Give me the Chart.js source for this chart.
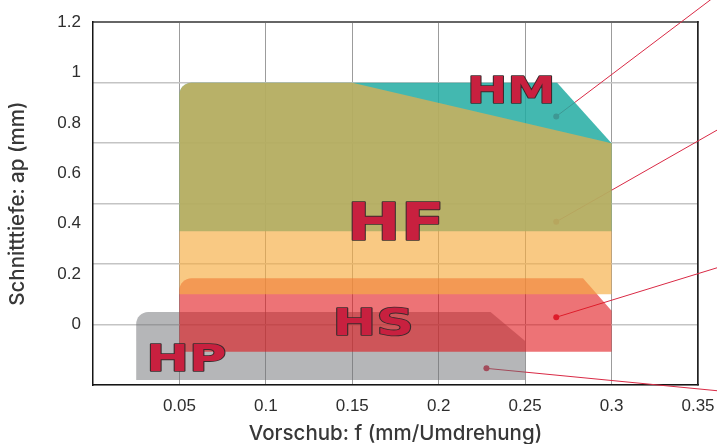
<!DOCTYPE html>
<html>
<head>
<meta charset="utf-8">
<script src="https://cdn.jsdelivr.net/npm/chart.js@4.4.1/dist/chart.umd.min.js"></script>
<style>
  html, body { margin: 0; padding: 0; background: #ffffff; }
  #wrap { width: 717px; height: 444px; position: relative; }
</style>
</head>
<body>
<div id="wrap"><canvas id="c"></canvas></div>
<script>
// ---------- data ----------
const fTicks  = [0.05, 0.1, 0.15, 0.2, 0.25, 0.3, 0.35];
const apTicks = [0, 0.2, 0.4, 0.6, 0.8, 1, 1.2];
const apGrid  = [-0.24, 0, 0.24, 0.48, 0.72, 0.96, 1.2];

// tool regions (polygon vertices: feed f, depth ap)
const hpF  = [0.025, 0.025, 0.23, 0.25, 0.25];
const hpAp = [-0.22, 0.05, 0.05, -0.065, -0.22];
const hsF  = [0.05, 0.05, 0.2835, 0.3, 0.3];
const hsAp = [-0.108, 0.184, 0.184, 0.055, -0.108];
const hmF  = [0.05, 0.05, 0.2685, 0.3, 0.3];
const hmAp = [0.37, 0.96, 0.96, 0.72, 0.37];
const hfF  = [0.05, 0.05, 0.15, 0.3, 0.3];
const hfAp = [0.12, 0.96, 0.96, 0.72, 0.12];

// region labels
const labelNames = ['HM', 'HF', 'HS', 'HP'];
const labelF     = [0.242, 0.1753, 0.1624, 0.0549];
const labelAp    = [0.933, 0.408, 0.011, -0.131];

// callout lines (start dot -> end outside plot)
const calloutF0  = [0.268, 0.268, 0.268, 0.2276];
const calloutAp0 = [0.826, 0.408, 0.029, -0.174];
const calloutF1  = [0.3611, 0.3611, 0.3611, 0.3611];
const calloutAp1 = [1.309, 0.772, 0.2254, -0.2627];

// ---------- styles ----------
const labelBox = { HM: [80, 27], HF: [87, 37], HS: [73, 28], HP: [74, 28] };
const corner = [0, 12, 0, 0, 0];

const pts = (xs, ys) => xs.map((x, i) => ({ x: x, y: ys[i] }));

function shapeDS(label, xs, ys, color, order) {
  return {
    type: 'line', label: label, data: pts(xs, ys), isShape: true,
    backgroundColor: color, borderColor: color, borderWidth: 0,
    pointRadius: 0, fill: false, order: order, clip: false
  };
}

const datasets = [];
for (let i = 0; i < calloutF0.length; i++) {
  datasets.push({
    type: 'line', label: 'callout' + i,
    data: [{ x: calloutF0[i], y: calloutAp0[i] }, { x: calloutF1[i], y: calloutAp1[i] }],
    borderColor: '#d92a45', borderWidth: 1, pointRadius: [3, 0],
    pointBackgroundColor: '#d92a45', pointBorderWidth: 0,
    fill: false, tension: 0, clip: false, order: 10
  });
}
datasets.push(shapeDS('HP', hpF, hpAp, 'rgba(107,109,113,0.5)', 5));
datasets.push(shapeDS('HS', hsF, hsAp, 'rgba(225,20,26,0.595)', 4));
datasets.push(shapeDS('HM', hmF, hmAp, 'rgba(34,172,162,0.85)', 3));
datasets.push(shapeDS('HF', hfF, hfAp, 'rgba(246,173,67,0.66)', 2));

const shapePlugin = {
  id: 'shapes',
  beforeDatasetDraw(chart, args) {
    const ds = chart.data.datasets[args.index];
    if (!ds.isShape) return;
    const p = args.meta.data;
    const ctx = chart.ctx;
    const n = p.length;
    ctx.save();
    ctx.beginPath();
    ctx.moveTo((p[n - 1].x + p[0].x) / 2, (p[n - 1].y + p[0].y) / 2);
    for (let i = 0; i < n; i++) {
      const a = p[i], b = p[(i + 1) % n];
      ctx.arcTo(a.x, a.y, b.x, b.y, corner[i] || 0);
    }
    ctx.closePath();
    ctx.fillStyle = ds.backgroundColor;
    ctx.fill();
    ctx.restore();
    return false;
  }
};

const labelPlugin = {
  id: 'regionLabels',
  afterDatasetsDraw(chart) {
    const ctx = chart.ctx;
    const xs = chart.scales.x, ys = chart.scales.y;
    labelNames.forEach((t, i) => {
      const cx = xs.getPixelForValue(labelF[i]);
      const cy = ys.getPixelForValue(labelAp[i]);
      ctx.save();
      ctx.font = 'bold 100px "DejaVu Sans", "Liberation Sans", sans-serif';
      ctx.textAlign = 'left';
      ctx.textBaseline = 'alphabetic';
      const m = ctx.measureText(t);
      const gw = m.actualBoundingBoxLeft + m.actualBoundingBoxRight;
      const asc = m.actualBoundingBoxAscent, desc = m.actualBoundingBoxDescent;
      const gh = asc + desc;
      const sx = labelBox[t][0] / gw, sy = labelBox[t][1] / gh;
      ctx.translate(cx, cy);
      ctx.scale(sx, sy);
      const tx = -gw / 2 + m.actualBoundingBoxLeft;
      const ty = (asc - desc) / 2;
      ctx.lineJoin = 'round';
      ctx.lineWidth = 1.6 / Math.min(sx, sy);
      ctx.strokeStyle = '#3a2b2d';
      ctx.strokeText(t, tx, ty);
      ctx.fillStyle = '#c8203f';
      ctx.fillText(t, tx, ty);
      ctx.restore();
    });
  }
};

const fmt = v => String(+(+v).toFixed(2));
const tickFont = { family: '"Liberation Sans", Arial, sans-serif', size: 17 };
const titleFont = { family: 'Inter, "Liberation Sans", sans-serif', size: 20.5, weight: 500, lineHeight: 1 };

new Chart(document.getElementById('c'), {
  type: 'line',
  data: { datasets: datasets },
  plugins: [shapePlugin, labelPlugin],
  options: {
    responsive: true, maintainAspectRatio: false, animation: false,
    layout: { padding: { top: 22, right: 19, bottom: 0, left: 0 } },
    plugins: { legend: { display: false }, tooltip: { enabled: false } },
    scales: {
      x: {
        type: 'linear', position: 'bottom', min: 0, max: 0.35,
        afterBuildTicks: s => { s.ticks = fTicks.map(v => ({ value: v })); },
        afterFit: s => { s.height = 59; s.paddingRight = 0; s.paddingLeft = 0; },
        ticks: { font: tickFont, color: '#2e2e2e', padding: 11, maxRotation: 0, autoSkip: false, callback: fmt },
        grid: { color: '#9c9c9c', lineWidth: 1, drawTicks: false },
        border: { color: '#151515', width: 1.5 },
        title: { display: true, text: 'Vorschub: f (mm/Umdrehung)', color: '#383838', font: titleFont, padding: { top: 0, bottom: 0 } }
      },
      xTop: {
        type: 'linear', position: 'top', min: 0, max: 0.35,
        afterFit: s => { s.height = 0; s.paddingRight = 0; s.paddingLeft = 0; },
        ticks: { display: false },
        grid: { display: false, drawTicks: false },
        border: { color: '#666666', width: 2 }
      },
      y: {
        type: 'linear', position: 'left', min: -0.24, max: 1.2,
        afterBuildTicks: s => { s.ticks = apTicks.map(v => ({ value: v })); },
        afterFit: s => { s.width = 93; },
        ticks: { font: tickFont, color: '#2e2e2e', padding: 12, autoSkip: false, callback: fmt },
        grid: { display: false, drawTicks: false },
        border: { color: '#151515', width: 1.5 },
        title: { display: true, text: 'Schnitttiefe: ap (mm)', color: '#383838', font: titleFont, padding: { top: 8, bottom: 0 } }
      },
      yGrid: {
        type: 'linear', position: 'right', min: -0.24, max: 1.2,
        afterBuildTicks: s => { s.ticks = apGrid.map(v => ({ value: v })); },
        afterFit: s => { s.width = 0; },
        ticks: { display: false },
        grid: { color: '#c4c4c4', lineWidth: 1.5, drawTicks: false },
        border: { color: '#222222', width: 1.5 }
      }
    }
  }
});
</script>
</body>
</html>
